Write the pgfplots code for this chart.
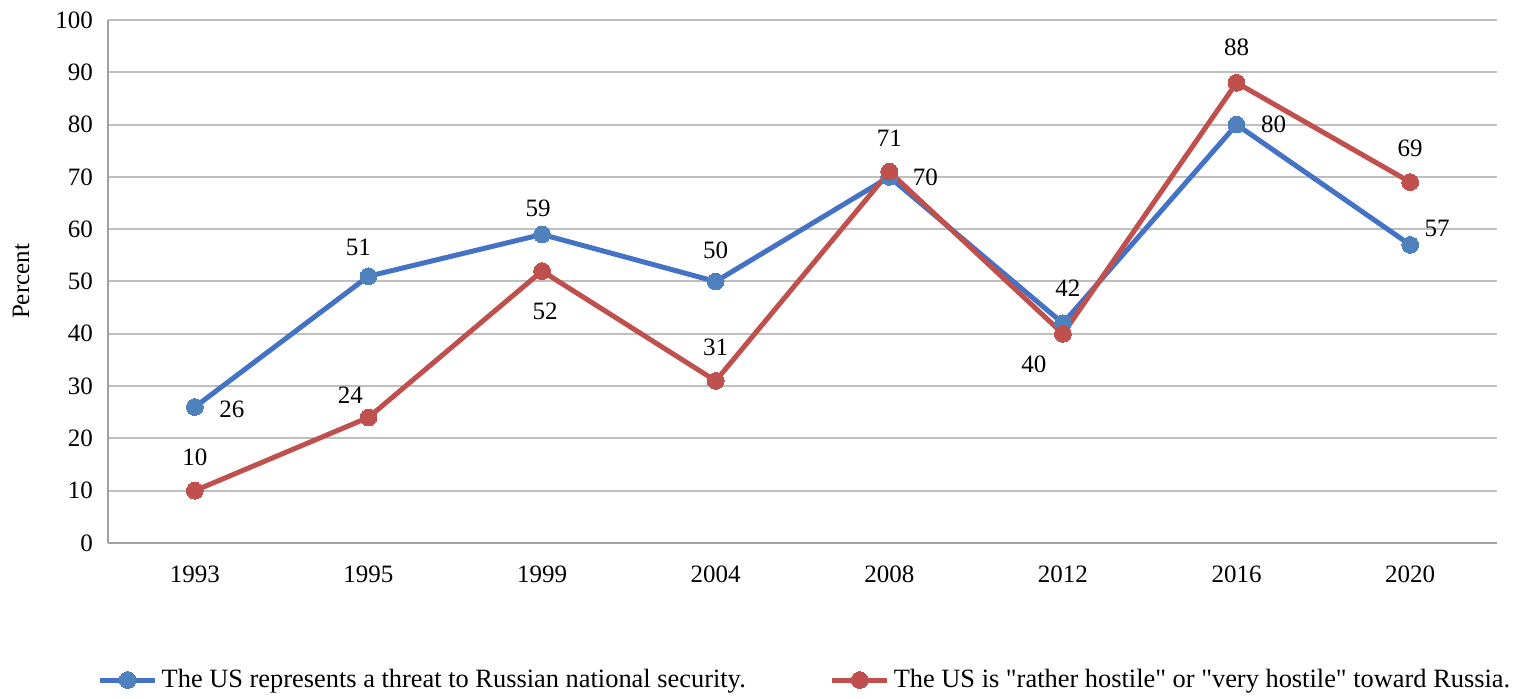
\documentclass[border=0pt]{standalone}
\usepackage{fontspec}
\setmainfont{Liberation Serif}
\usepackage{pgfplots}
\usepackage{pgfplotstable}
\pgfplotsset{compat=1.18}
\usetikzlibrary{calc}
\definecolor{bline}{HTML}{4472C4}
\definecolor{bmark}{HTML}{4F81BD}
\definecolor{rline}{HTML}{C0504D}
\definecolor{gridc}{HTML}{BFBFBF}
\definecolor{axc}{HTML}{A0A0A0}
\pgfplotstableread{
x y dx dy
0 26 18.5 -1
1 51 -5 14.5
2 59 -2 13
3 50 0 15.5
4 70 18 0
5 42 2.5 17.5
6 80 18.5 0
7 57 13.5 8
}\blue
\pgfplotstableread{
x y dx dy
0 10 0 16.5
1 24 -9 11
2 52 1.5 -20
3 31 0 17
4 71 0 16.5
5 40 -14.5 -15.5
6 88 0 17.5
7 69 0 17
}\red
\begin{document}
\begin{tikzpicture}
\begin{axis}[
  name=ax,
  scale only axis,
  width=694.5pt, height=261.5pt,
  xmin=-0.5, xmax=7.5, ymin=0, ymax=100,
  xtick={0,...,7},
  xticklabels={1993,1995,1999,2004,2008,2012,2016,2020},
  ytick={0,10,...,100},
  axis x line*=bottom, axis y line*=left,
  axis line style={axc, line width=1pt},
  ymajorgrids, grid style={gridc, line width=1pt},
  major tick length=0pt,
  tick label style={font=\fontsize{12.5}{14}\selectfont},
  /pgf/number format/assume math mode=true,
  yticklabel style={xshift=-4pt},
  xticklabel style={yshift=-8pt},
  ylabel={Percent},
  ylabel style={font=\fontsize{12.5}{14}\selectfont, at={(axis description cs:-0.0515,0.5)}, anchor=south},
  legend columns=2,
  legend style={at={(axis description cs:0.5025,-0.262)}, anchor=center, draw=none,
    font=\fontsize{13.2}{15}\selectfont, /tikz/every even column/.append style={column sep=40pt}},
  legend image code/.code={\draw[#1, mark repeat=2, mark phase=2] plot coordinates {(0pt,0pt) (13.75pt,0pt) (27.5pt,0pt)};},
  clip=false,
  nodes near coords,
  point meta=explicit symbolic,
  every node near coord/.append style={font=\fontsize{12.5}{14}\selectfont, text=black, anchor=center, xshift=\dx pt, yshift=\dy pt, inner sep=0pt},
]
\addplot[bline, line width=2.5pt, mark=*, mark size=4.2pt, mark options={bmark, fill=bmark, line width=0pt},
  visualization depends on={\thisrow{dx}\as\dx}, visualization depends on={\thisrow{dy}\as\dy}]
  table[x=x, y=y, meta=y] {\blue};
\addlegendentry{The US represents a threat to Russian national security.}
\addplot[rline, line width=2.5pt, mark=*, mark size=4.2pt, mark options={rline, fill=rline, line width=0pt},
  visualization depends on={\thisrow{dx}\as\dx}, visualization depends on={\thisrow{dy}\as\dy}]
  table[x=x, y=y, meta=y] {\red};
\addlegendentry{The US is \textquotedbl rather hostile\textquotedbl{} or \textquotedbl very hostile\textquotedbl{} toward Russia.}
\end{axis}
\path (ax.south west) ++(-54pt,-76pt) rectangle ($(ax.north east)+(12.5pt,10pt)$);
\end{tikzpicture}
\end{document}
